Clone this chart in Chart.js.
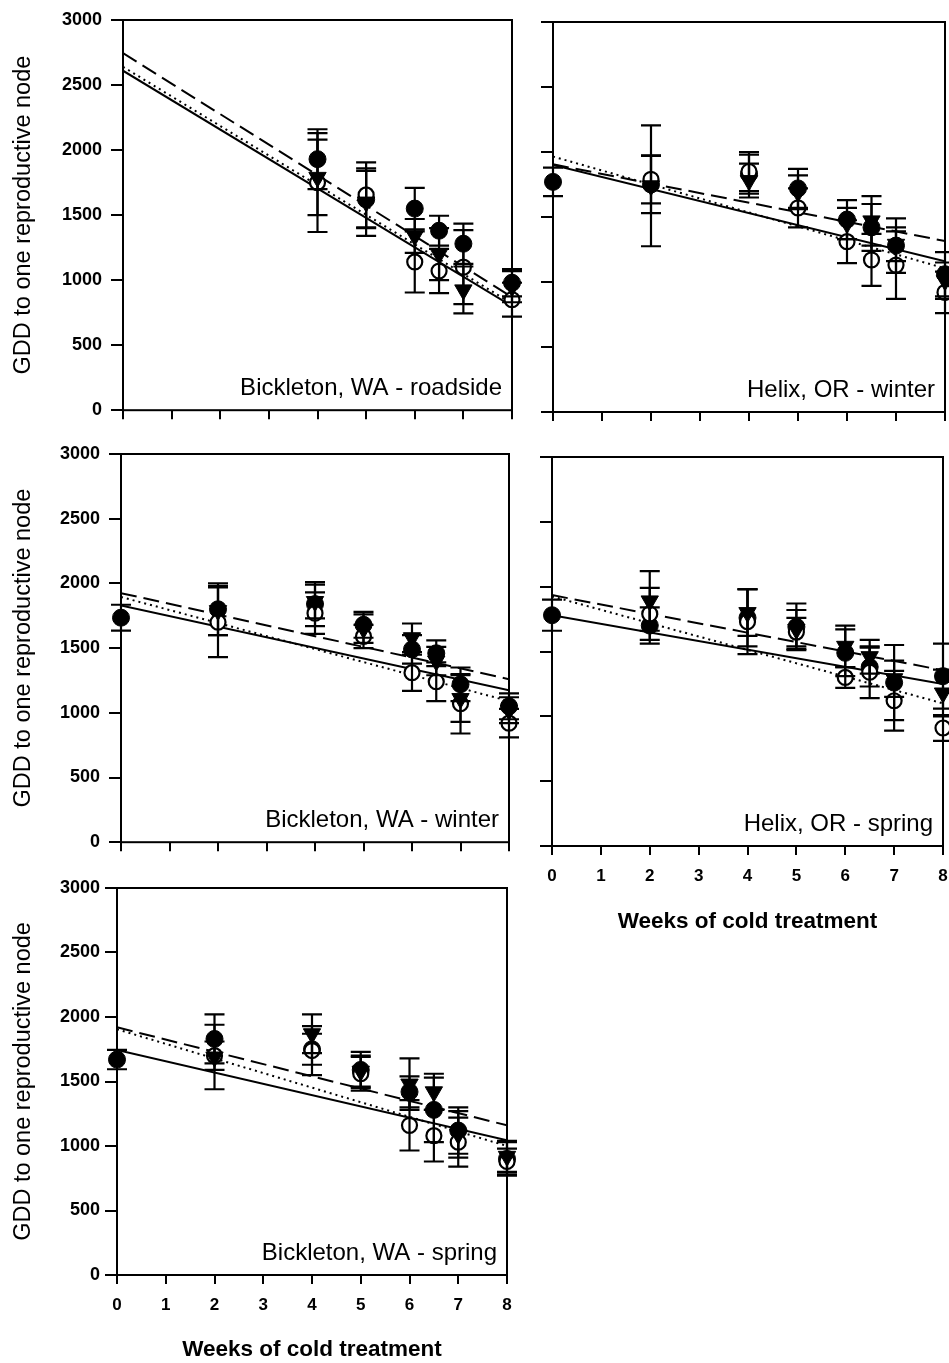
<!DOCTYPE html>
<html>
<head>
<meta charset="utf-8">
<title>GDD to one reproductive node vs weeks of cold treatment</title>
<script src="https://cdn.jsdelivr.net/npm/chart.js@4.4.1/dist/chart.umd.min.js"></script>
<style>
    html, body { margin: 0; padding: 0; background: #fff; }
    #page { position: relative; width: 949px; height: 1363px; overflow: hidden; background: #fff; }
    #page canvas { position: absolute; }
</style>
</head>
<body>
<div id="page">
    <canvas id="roadsideChart" width="530" height="430" style="left:0px;top:0px"></canvas>
    <canvas id="helixWinterChart" width="419" height="430" style="left:530px;top:0px"></canvas>
    <canvas id="bickWinterChart" width="530" height="430" style="left:0px;top:432px"></canvas>
    <canvas id="helixSpringChart" width="419" height="513" style="left:530px;top:432px"></canvas>
    <canvas id="bickSpringChart" width="530" height="497" style="left:0px;top:866px"></canvas>
</div>
<script>
// ---- axis ticks ----
const weekTicks = [0, 1, 2, 3, 4, 5, 6, 7, 8];
const gddTicks = [0, 500, 1000, 1500, 2000, 2500, 3000];

// weeks of cold treatment where samples were taken
const weeksAll = [0, 2, 4, 5, 6, 6.5, 7, 8];
const weeksCold = [2, 4, 5, 6, 6.5, 7, 8];
const fitWeeks = [0, 8];

// ---- Bickleton, WA - roadside ----
const roadsideWeeks = [4, 5, 6, 6.5, 7, 8];
const roadsideFilled = [1930, 1620, 1550, 1380, 1280, 980];
const roadsideFilledErr = [230, 220, 160, 115, 155, 105];
const roadsideOpen = [1750, 1655, 1140, 1070, 1100, 850];
const roadsideOpenErr = [380, 250, 235, 170, 285, 130];
const roadsideTri = [1790, 1600, 1340, 1200, 925, 950];
const roadsideTriErr = [290, 260, 130, 200, 180, 120];
const roadsideSolid = [2610, 800];
const roadsideDotted = [2640, 820];
const roadsideDashed = [2745, 870];

// ---- Helix, OR - winter ----
const helixWinterFilled = [1770, 1750, 1830, 1720, 1480, 1420, 1280, 1060];
const helixWinterFilledErr = [110, 220, 150, 150, 150, 180, 210, 170];
const helixWinterOpen = [1790, 1850, 1570, 1310, 1170, 1130, 920];
const helixWinterOpenErr = [185, 150, 150, 165, 200, 260, 160];
const helixWinterTri = [1740, 1780, 1690, 1450, 1470, 1290, 1010];
const helixWinterTriErr = [465, 130, 130, 120, 190, 130, 140];
const helixWinterSolid = [1900, 1160];
const helixWinterDotted = [1965, 1105];
const helixWinterDashed = [1905, 1315];

// ---- Bickleton, WA - winter ----
const bickWinterFilled = [1735, 1800, 1840, 1680, 1490, 1460, 1220, 1050];
const bickWinterFilledErr = [100, 200, 170, 100, 110, 100, 130, 100];
const bickWinterOpen = [1700, 1770, 1590, 1310, 1240, 1070, 920];
const bickWinterOpenErr = [270, 160, 90, 140, 150, 230, 110];
const bickWinterTri = [1790, 1860, 1650, 1580, 1400, 1110, 1020];
const bickWinterTriErr = [190, 130, 110, 110, 110, 180, 100];
const bickWinterSolid = [1830, 1175];
const bickWinterDotted = [1895, 1090];
const bickWinterDashed = [1925, 1260];

// ---- Helix, OR - spring ----
const helixSpringFilled = [1780, 1700, 1760, 1690, 1490, 1380, 1260, 1310];
const helixSpringFilledErr = [120, 140, 220, 180, 180, 150, 290, 250];
const helixSpringOpen = [1790, 1730, 1650, 1300, 1340, 1120, 910];
const helixSpringOpenErr = [200, 250, 110, 80, 200, 230, 100];
const helixSpringTri = [1890, 1800, 1670, 1540, 1460, 1290, 1180];
const helixSpringTriErr = [230, 180, 150, 160, 130, 140, 180];
const helixSpringSolid = [1780, 1250];
const helixSpringDotted = [1925, 1100];
const helixSpringDashed = [1935, 1355];

// ---- Bickleton, WA - spring ----
const bickSpringFilled = [1670, 1830, 1750, 1590, 1420, 1280, 1120, 900];
const bickSpringFilledErr = [75, 190, 120, 140, 120, 250, 180, 130];
const bickSpringOpen = [1700, 1740, 1560, 1160, 1080, 1030, 880];
const bickSpringOpenErr = [110, 190, 130, 195, 200, 190, 100];
const bickSpringTri = [1690, 1870, 1580, 1480, 1420, 1090, 920];
const bickSpringTriErr = [250, 150, 120, 200, 140, 180, 120];
const bickSpringSolid = [1745, 1045];
const bickSpringDotted = [1905, 1000];
const bickSpringDashed = [1920, 1160];

const FONT = "'Liberation Sans', Arial, Helvetica, sans-serif";

function toPoints(xs, ys) {
    return ys.map((v, i) => ({ x: xs[i], y: v }));
}

// error bars + frame + panel caption
const panelDecor = {
    id: 'panelDecor',
    beforeDatasetsDraw(chart) {
        const a = chart.chartArea, ctx = chart.ctx;
        ctx.save();
        ctx.strokeStyle = '#000';
        ctx.lineWidth = 2;
        ctx.strokeRect(a.left, a.top, a.right - a.left, a.bottom - a.top);
        ctx.restore();
    },
    afterDatasetsDraw(chart, args, opts) {
        const ctx = chart.ctx, xs = chart.scales.x, ys = chart.scales.y;
        ctx.save();
        ctx.strokeStyle = '#000';
        ctx.lineWidth = 2.2;
        chart.data.datasets.forEach(ds => {
            if (!ds.errors) return;
            ds.data.forEach((p, i) => {
                const px = xs.getPixelForValue(p.x);
                const top = ys.getPixelForValue(p.y + ds.errors[i]);
                const bot = ys.getPixelForValue(p.y - ds.errors[i]);
                ctx.beginPath();
                ctx.moveTo(px, top); ctx.lineTo(px, bot);
                ctx.moveTo(px - 10, top); ctx.lineTo(px + 10, top);
                ctx.moveTo(px - 10, bot); ctx.lineTo(px + 10, bot);
                ctx.stroke();
            });
        });
        const a = chart.chartArea;
        ctx.fillStyle = '#000';
        ctx.font = '24px ' + FONT;
        ctx.textAlign = 'right';
        ctx.textBaseline = 'alphabetic';
        ctx.fillText(opts.label, a.right - 10, a.bottom - 15);
        ctx.restore();
    }
};

function makePanel(p) {
    const canvas = document.getElementById(p.id);
    const pos = { left: parseFloat(canvas.style.left), top: parseFloat(canvas.style.top) };
    const yAxisW = p.area.L - pos.left;
    const xAxisH = pos.top + canvas.height - p.area.B;

    const marker = (label, xs, ys, errs, style) => Object.assign({
        label: label,
        data: toPoints(xs, ys),
        errors: errs,
        showLine: false,
        clip: false
    }, style);

    const fit = (label, ys, dash, order) => ({
        label: label,
        data: toPoints(fitWeeks, ys),
        showLine: true,
        pointRadius: 0,
        borderColor: '#000',
        borderWidth: 2,
        borderDash: dash,
        fill: false,
        order: order
    });

    const datasets = [
        marker('filled circles', p.filledWeeks, p.filled, p.filledErr, {
            pointStyle: 'circle', pointRadius: 8.5, pointBackgroundColor: '#000',
            pointBorderColor: '#000', pointBorderWidth: 1, order: 2
        }),
        marker('open circles', p.openWeeks, p.open, p.openErr, {
            pointStyle: 'circle', pointRadius: 7.5, pointBackgroundColor: '#fff',
            pointBorderColor: '#000', pointBorderWidth: 2.2, order: 1
        }),
        marker('triangles', p.openWeeks, p.tri, p.triErr, {
            pointStyle: 'triangle', pointRotation: 180, pointRadius: 10,
            pointBackgroundColor: '#000', pointBorderColor: '#000', pointBorderWidth: 1, order: 0
        }),
        fit('solid fit', p.solid, [], 3),
        fit('dotted fit', p.dotted, [2, 4], 4),
        fit('dashed fit', p.dashed, [16, 7], 5)
    ];

    return new Chart(canvas.getContext('2d'), {
        type: 'scatter',
        data: { datasets: datasets },
        options: {
            responsive: false,
            animation: false,
            events: [],
            layout: {
                autoPadding: false,
                padding: {
                    left: 0,
                    top: p.area.T - pos.top,
                    right: pos.left + canvas.width - p.area.R,
                    bottom: 0
                }
            },
            plugins: {
                legend: { display: false },
                tooltip: { enabled: false },
                panelDecor: { label: p.label }
            },
            scales: {
                x: {
                    type: 'linear', min: 0, max: 8,
                    afterBuildTicks: s => { s.ticks = weekTicks.map(v => ({ value: v })); },
                    afterFit: s => { s.height = xAxisH; s.paddingLeft = 0; s.paddingRight = 0; },
                    border: { display: false },
                    grid: { drawOnChartArea: false, drawTicks: true, tickLength: 9, lineWidth: 2, color: '#000' },
                    ticks: {
                        display: p.showX, color: '#000', padding: 11, maxRotation: 0,
                        callback: v => String(v),
                        font: { family: FONT, size: 17, weight: 'bold' }
                    },
                    title: {
                        display: p.showX, text: 'Weeks of cold treatment', color: '#000',
                        font: { family: FONT, size: 22.5, weight: 'bold' },
                        padding: { top: 0, bottom: p.xTitlePad || 0 }
                    }
                },
                y: {
                    type: 'linear', min: 0, max: 3000,
                    afterBuildTicks: s => { s.ticks = gddTicks.map(v => ({ value: v })); },
                    afterFit: s => { s.width = yAxisW; },
                    border: { display: false },
                    grid: { drawOnChartArea: false, drawTicks: true, tickLength: 12, lineWidth: 2, color: '#000' },
                    ticks: {
                        display: p.showY, color: '#000', padding: p.yPad || 9,
                        callback: v => String(v),
                        font: { family: FONT, size: 18, weight: 'bold' }
                    },
                    title: {
                        display: p.showY, text: 'GDD to one reproductive node', color: '#000',
                        font: { family: FONT, size: 23.5 },
                        padding: { top: 9, bottom: 0 }
                    }
                }
            }
        },
        plugins: [panelDecor]
    });
}

makePanel({
    id: 'roadsideChart', label: 'Bickleton, WA - roadside',
    area: { L: 123, T: 20, R: 512, B: 411 }, showX: false, showY: true, yPad: 9,
    filledWeeks: roadsideWeeks, openWeeks: roadsideWeeks,
    filled: roadsideFilled, filledErr: roadsideFilledErr,
    open: roadsideOpen, openErr: roadsideOpenErr,
    tri: roadsideTri, triErr: roadsideTriErr,
    solid: roadsideSolid, dotted: roadsideDotted, dashed: roadsideDashed
});

makePanel({
    id: 'helixWinterChart', label: 'Helix, OR - winter',
    area: { L: 553, T: 22, R: 945, B: 412 }, showX: false, showY: false,
    filledWeeks: weeksAll, openWeeks: weeksCold,
    filled: helixWinterFilled, filledErr: helixWinterFilledErr,
    open: helixWinterOpen, openErr: helixWinterOpenErr,
    tri: helixWinterTri, triErr: helixWinterTriErr,
    solid: helixWinterSolid, dotted: helixWinterDotted, dashed: helixWinterDashed
});

makePanel({
    id: 'bickWinterChart', label: 'Bickleton, WA - winter',
    area: { L: 121, T: 454, R: 509, B: 844 }, showX: false, showY: true, yPad: 9,
    filledWeeks: weeksAll, openWeeks: weeksCold,
    filled: bickWinterFilled, filledErr: bickWinterFilledErr,
    open: bickWinterOpen, openErr: bickWinterOpenErr,
    tri: bickWinterTri, triErr: bickWinterTriErr,
    solid: bickWinterSolid, dotted: bickWinterDotted, dashed: bickWinterDashed
});

makePanel({
    id: 'helixSpringChart', label: 'Helix, OR - spring',
    area: { L: 552, T: 457, R: 943, B: 846 }, showX: true, showY: false, xTitlePad: 10,
    filledWeeks: weeksAll, openWeeks: weeksCold,
    filled: helixSpringFilled, filledErr: helixSpringFilledErr,
    open: helixSpringOpen, openErr: helixSpringOpenErr,
    tri: helixSpringTri, triErr: helixSpringTriErr,
    solid: helixSpringSolid, dotted: helixSpringDotted, dashed: helixSpringDashed
});

makePanel({
    id: 'bickSpringChart', label: 'Bickleton, WA - spring',
    area: { L: 117, T: 888, R: 507, B: 1275 }, showX: true, showY: true, yPad: 5, xTitlePad: 0,
    filledWeeks: weeksAll, openWeeks: weeksCold,
    filled: bickSpringFilled, filledErr: bickSpringFilledErr,
    open: bickSpringOpen, openErr: bickSpringOpenErr,
    tri: bickSpringTri, triErr: bickSpringTriErr,
    solid: bickSpringSolid, dotted: bickSpringDotted, dashed: bickSpringDashed
});
</script>
</body>
</html>
